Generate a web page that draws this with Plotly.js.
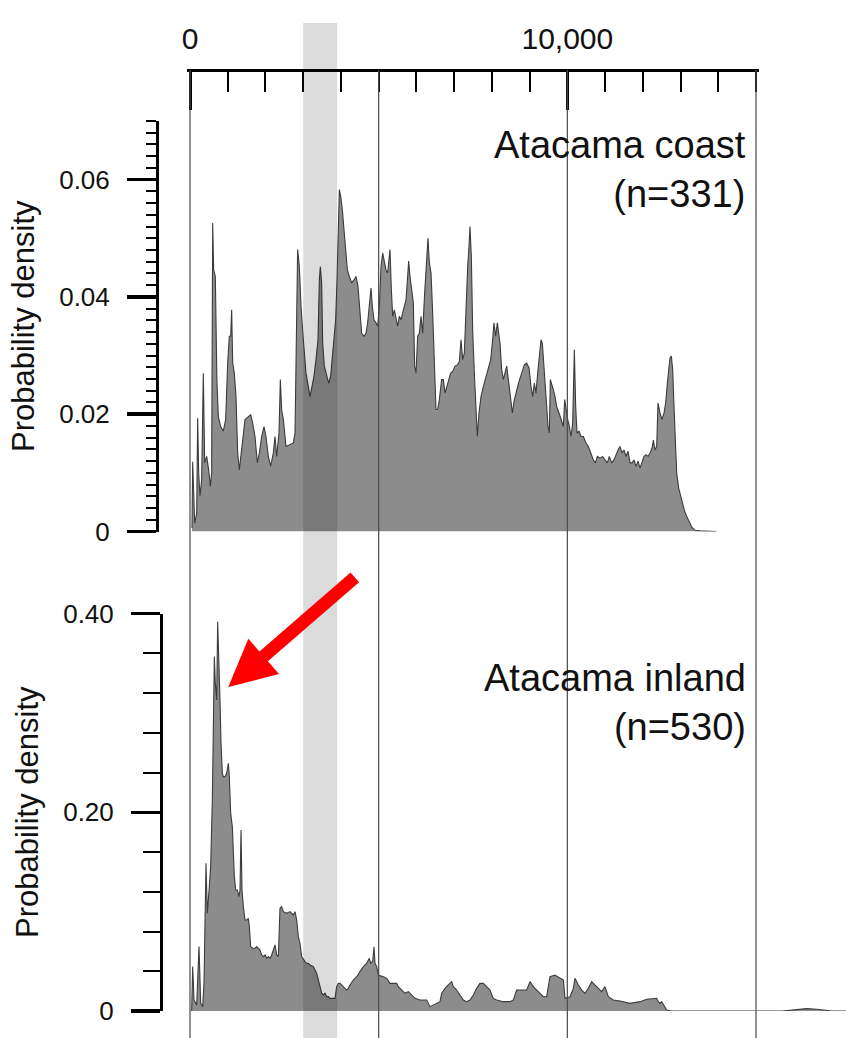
<!DOCTYPE html>
<html>
<head>
<meta charset="utf-8">
<script src="https://cdn.plot.ly/plotly-3.0.1.min.js"></script>
<style>
html, body { margin: 0; padding: 0; background: #ffffff; }
#chart { width: 846px; height: 1038px; }
</style>
</head>
<body>
<div id="chart"></div>
<script>
// Summed probability density of radiocarbon dates (cal yr BP), two regions.

const coastAge = [53,71,124,177,203,230,265,309,353,389,442,495,539,574,601,627,671,712,751,813,883,945,998,1042,1078,1104,1131,1175,1219,1263,1307,1369,1458,1546,1608,1661,1723,1785,1838,1899,1961,2014,2076,2138,2209,2253,2297,2359,2394,2429,2474,2544,2650,2739,2783,2818,2853,2898,2942,3004,3074,3136,3180,3233,3286,3339,3392,3428,3454,3489,3516,3560,3622,3675,3728,3772,3816,3860,3896,3931,3958,3993,4037,4081,4125,4170,4223,4284,4346,4399,4452,4505,4549,4611,4664,4708,4753,4797,4832,4876,4929,4973,5018,5062,5106,5150,5194,5239,5274,5300,5336,5371,5415,5459,5503,5548,5592,5636,5680,5724,5769,5795,5830,5875,5919,5954,5990,6034,6078,6122,6166,6219,6272,6307,6343,6387,6431,6475,6519,6564,6608,6669,6714,6758,6802,6855,6908,6961,7023,7085,7138,7182,7226,7270,7314,7359,7394,7420,7456,7491,7535,7580,7615,7659,7712,7774,7845,7906,7968,8021,8056,8101,8145,8216,8260,8304,8349,8393,8437,8481,8543,8596,8658,8720,8790,8861,8923,8985,9038,9082,9126,9170,9214,9258,9303,9338,9373,9417,9453,9488,9523,9550,9585,9629,9674,9718,9780,9833,9895,9930,9965,10009,10054,10098,10142,10186,10221,10257,10310,10363,10425,10495,10557,10619,10690,10743,10796,10866,10937,10999,11060,11113,11175,11237,11290,11343,11396,11449,11502,11555,11608,11661,11714,11767,11820,11873,11926,11979,12032,12085,12138,12191,12244,12280,12324,12368,12403,12456,12509,12562,12606,12651,12686,12721,12757,12792,12827,12863,12898,12951,13004,13057,13110,13163,13234,13304,13384,13516,13958];
const coastDensity = [0.0006,0.0119,0.0014,0.0031,0.0193,0.0100,0.0060,0.0088,0.0270,0.0117,0.0128,0.0105,0.0077,0.0100,0.0526,0.0446,0.0435,0.0259,0.0196,0.0179,0.0171,0.0191,0.0287,0.0333,0.0333,0.0378,0.0287,0.0270,0.0230,0.0134,0.0105,0.0145,0.0191,0.0196,0.0199,0.0185,0.0162,0.0117,0.0134,0.0162,0.0179,0.0162,0.0128,0.0111,0.0134,0.0162,0.0128,0.0168,0.0259,0.0208,0.0191,0.0145,0.0148,0.0151,0.0168,0.0373,0.0481,0.0452,0.0384,0.0327,0.0270,0.0247,0.0230,0.0247,0.0265,0.0293,0.0327,0.0429,0.0452,0.0424,0.0321,0.0282,0.0265,0.0253,0.0265,0.0293,0.0333,0.0361,0.0429,0.0555,0.0583,0.0572,0.0549,0.0515,0.0481,0.0446,0.0435,0.0424,0.0429,0.0435,0.0418,0.0378,0.0338,0.0333,0.0338,0.0356,0.0384,0.0415,0.0384,0.0361,0.0356,0.0350,0.0384,0.0452,0.0475,0.0458,0.0446,0.0441,0.0469,0.0481,0.0412,0.0367,0.0378,0.0361,0.0350,0.0367,0.0361,0.0373,0.0384,0.0395,0.0435,0.0461,0.0435,0.0412,0.0390,0.0282,0.0270,0.0333,0.0338,0.0367,0.0338,0.0407,0.0475,0.0500,0.0458,0.0441,0.0373,0.0282,0.0208,0.0208,0.0225,0.0259,0.0259,0.0236,0.0247,0.0259,0.0270,0.0273,0.0282,0.0284,0.0290,0.0327,0.0293,0.0304,0.0384,0.0452,0.0486,0.0520,0.0469,0.0344,0.0270,0.0202,0.0162,0.0202,0.0230,0.0247,0.0265,0.0276,0.0293,0.0327,0.0356,0.0333,0.0356,0.0321,0.0276,0.0259,0.0270,0.0282,0.0259,0.0230,0.0202,0.0225,0.0242,0.0256,0.0270,0.0284,0.0287,0.0279,0.0247,0.0230,0.0253,0.0236,0.0270,0.0299,0.0327,0.0321,0.0293,0.0253,0.0213,0.0179,0.0168,0.0259,0.0253,0.0242,0.0230,0.0213,0.0202,0.0191,0.0179,0.0225,0.0208,0.0191,0.0179,0.0162,0.0185,0.0310,0.0213,0.0168,0.0171,0.0162,0.0162,0.0151,0.0145,0.0134,0.0122,0.0117,0.0128,0.0125,0.0128,0.0122,0.0117,0.0128,0.0117,0.0122,0.0131,0.0139,0.0145,0.0134,0.0139,0.0128,0.0137,0.0117,0.0117,0.0122,0.0111,0.0120,0.0108,0.0117,0.0128,0.0131,0.0128,0.0134,0.0142,0.0156,0.0139,0.0145,0.0219,0.0202,0.0191,0.0202,0.0219,0.0253,0.0282,0.0296,0.0299,0.0276,0.0213,0.0156,0.0100,0.0074,0.0060,0.0048,0.0034,0.0026,0.0017,0.0007,0.0002,0.0001,0];

const inlandAge = [44,71,106,177,239,283,336,371,424,459,512,548,592,618,645,671,707,733,769,795,822,857,883,928,972,1016,1042,1078,1122,1148,1175,1210,1254,1299,1325,1352,1378,1413,1458,1502,1546,1572,1608,1661,1723,1767,1811,1855,1899,1944,1988,2032,2076,2120,2164,2209,2253,2297,2341,2385,2429,2474,2562,2650,2739,2783,2827,2871,2915,2959,3004,3048,3092,3136,3180,3269,3313,3357,3401,3445,3490,3534,3578,3622,3666,3710,3843,3887,3931,3975,4019,4063,4108,4152,4196,4240,4328,4417,4505,4593,4682,4752,4788,4841,4876,4903,4947,4991,5123,5212,5300,5388,5477,5521,5609,5698,5786,5874,5963,6095,6272,6360,6449,6625,6669,6758,6846,6934,6979,7067,7155,7244,7332,7420,7509,7597,7685,7774,7862,7950,8039,8127,8304,8480,8569,8657,8834,8922,9010,9099,9187,9275,9364,9452,9496,9540,9673,9805,9894,9938,10071,10159,10203,10291,10380,10468,10556,10645,10733,10821,10910,10998,11086,11219,11396,11661,11926,12103,12280,12368,12412,12456,12500,12545,12589,12633,12721,13000,15700,15990,16343,16608,16962,17385];
const inlandDensity = [0,0.0447,0.0111,0.0061,0.0648,0.0078,0.0044,0.0279,0.1486,0.0983,0.1252,0.1453,0.2124,0.2727,0.3566,0.3297,0.3130,0.3918,0.3532,0.3130,0.2694,0.2392,0.2358,0.2358,0.2392,0.2493,0.2358,0.1989,0.1855,0.1587,0.1352,0.1218,0.1218,0.1151,0.1218,0.1822,0.1218,0.1050,0.0916,0.0916,0.0933,0.0849,0.0648,0.0631,0.0631,0.0648,0.0631,0.0614,0.0564,0.0547,0.0564,0.0530,0.0547,0.0530,0.0564,0.0614,0.0665,0.0564,0.0547,0.1034,0.1050,0.1000,0.0983,0.1000,0.0966,0.1000,0.0916,0.0748,0.0681,0.0547,0.0514,0.0497,0.0480,0.0480,0.0463,0.0447,0.0413,0.0380,0.0313,0.0246,0.0179,0.0162,0.0179,0.0145,0.0145,0.0127,0.0127,0.0245,0.0278,0.0278,0.0262,0.0245,0.0228,0.0211,0.0228,0.0262,0.0312,0.0345,0.0396,0.0446,0.0480,0.0530,0.0480,0.0496,0.0647,0.0480,0.0446,0.0362,0.0345,0.0329,0.0278,0.0278,0.0278,0.0245,0.0211,0.0178,0.0195,0.0161,0.0127,0.0111,0.0111,0.0044,0.0060,0.0094,0.0178,0.0228,0.0262,0.0295,0.0245,0.0211,0.0161,0.0111,0.0094,0.0111,0.0161,0.0228,0.0278,0.0278,0.0245,0.0211,0.0127,0.0111,0.0094,0.0094,0.0111,0.0211,0.0211,0.0211,0.0295,0.0245,0.0211,0.0178,0.0144,0.0144,0.0228,0.0345,0.0362,0.0329,0.0312,0.0127,0.0144,0.0228,0.0329,0.0262,0.0211,0.0178,0.0228,0.0295,0.0262,0.0228,0.0195,0.0245,0.0144,0.0111,0.0101,0.0077,0.0094,0.0118,0.0128,0.0128,0.0094,0.0077,0.0094,0.0060,0.0027,0.0010,0.0003,0,0,0.0010,0.0024,0.0017,0.0003,0];

// axis ticks
const ageTickVals = [0, 10000];
const ageTickText = ['0', '10,000'];
const coastTickVals = [0, 0.02, 0.04, 0.06];
const coastTickText = ['0', '0.02', '0.04', '0.06'];
const inlandTickVals = [0, 0.2, 0.4];
const inlandTickText = ['0', '0.20', '0.40'];

// vertical reference lines and highlighted interval (cal yr BP)
const gridAges = [0, 5000, 10000, 15000];
const bandAges = [3000, 3900];

// panel labels
const coastLabel = 'Atacama coast<br>(n=331)';
const inlandLabel = 'Atacama inland<br>(n=530)';
const yTitle = 'Probability density';

// highlighted point on the inland curve
const markAge = 1015;
const markDensity = 0.326;

// page geometry helpers (pixels -> paper fractions)
const W = 846, H = 1038;
const fx = p => p / W;
const fy = p => 1 - p / H;

const FONT = 'Liberation Sans, Arial, Helvetica, sans-serif';
const fillGrey = '#8c8c8c';
const edgeGrey = '#3c3c3c';

const traces = [
  {
    x: coastAge, y: coastDensity, xaxis: 'x', yaxis: 'y',
    type: 'scatter', mode: 'lines', fill: 'tozeroy',
    fillcolor: fillGrey, line: { color: edgeGrey, width: 1.1 },
    hoverinfo: 'skip', showlegend: false
  },
  {
    x: inlandAge, y: inlandDensity, xaxis: 'x2', yaxis: 'y2',
    type: 'scatter', mode: 'lines', fill: 'tozeroy',
    fillcolor: fillGrey, line: { color: edgeGrey, width: 1.1 },
    hoverinfo: 'skip', showlegend: false
  }
];

const shapes = gridAges.map(a => ({
  type: 'line', xref: 'x2', yref: 'paper',
  x0: a, x1: a, y0: 0, y1: fy(70),
  line: { color: '#4a4a4a', width: 1.2 }, layer: 'above'
}));
shapes.push({
  type: 'rect', xref: 'x2', yref: 'paper',
  x0: bandAges[0], x1: bandAges[1], y0: 0, y1: fy(23),
  fillcolor: 'rgba(0,0,0,0.14)', line: { width: 0 }, layer: 'above'
});

// the top age axis runs a hair past 0 and 15,000 so the end ticks are kept
const layout = {
  width: W, height: H,
  margin: { l: 0, r: 0, t: 0, b: 0 },
  paper_bgcolor: '#ffffff', plot_bgcolor: 'rgba(0,0,0,0)',
  font: { family: FONT, color: '#111111' },
  showlegend: false,
  hovermode: false,
  xaxis: {
    domain: [fx(187), fx(759)], range: [-79.5, 15079.5],
    anchor: 'free', position: fy(70), side: 'top',
    showline: true, linecolor: '#000000', linewidth: 3,
    ticks: 'inside', ticklen: 38, tickwidth: 3, tickcolor: '#000000',
    tickmode: 'array', tickvals: ageTickVals, ticktext: ageTickText,
    tickfont: { size: 30, family: FONT, color: '#111111' },
    ticklabelstandoff: 8,
    minor: { dtick: 1000, tick0: 0, ticks: 'inside', ticklen: 20, tickwidth: 2, tickcolor: '#000000' },
    showgrid: false, zeroline: false, fixedrange: true
  },
  xaxis2: {
    domain: [fx(180), 1], range: [-265, 17385], anchor: 'y2',
    visible: false, showgrid: false, zeroline: false, fixedrange: true
  },
  yaxis: {
    domain: [fy(531.5), fy(121)], range: [0, 0.07],
    anchor: 'free', position: fx(157), side: 'left',
    showline: true, linecolor: '#000000', linewidth: 3,
    ticks: 'outside', ticklen: 29, tickwidth: 3.5, tickcolor: '#000000',
    tickmode: 'array', tickvals: coastTickVals, ticktext: coastTickText,
    tickfont: { size: 26, family: FONT, color: '#111111' },
    ticklabelstandoff: 12,
    minor: { dtick: 0.002, tick0: 0, ticks: 'outside', ticklen: 10, tickwidth: 2, tickcolor: '#000000' },
    title: { text: yTitle, font: { size: 31, family: FONT, color: '#111111' }, standoff: 14 },
    showgrid: false, zeroline: false, fixedrange: true
  },
  yaxis2: {
    domain: [fy(1011), fy(613.5)], range: [0, 0.4],
    anchor: 'free', position: fx(161), side: 'left',
    showline: true, linecolor: '#000000', linewidth: 3,
    ticks: 'outside', ticklen: 29, tickwidth: 3.5, tickcolor: '#000000',
    tickmode: 'array', tickvals: inlandTickVals, ticktext: inlandTickText,
    tickfont: { size: 26, family: FONT, color: '#111111' },
    ticklabelstandoff: 12,
    minor: { dtick: 0.04, tick0: 0, ticks: 'outside', ticklen: 17, tickwidth: 2, tickcolor: '#000000' },
    title: { text: yTitle, font: { size: 31, family: FONT, color: '#111111' }, standoff: 14 },
    showgrid: false, zeroline: false, fixedrange: true
  },
  shapes: shapes,
  annotations: [
    {
      xref: 'paper', yref: 'paper', x: fx(748), y: fy(122),
      xanchor: 'right', yanchor: 'top', align: 'right',
      text: coastLabel, showarrow: false,
      font: { size: 38, family: FONT, color: '#111111' }
    },
    {
      xref: 'paper', yref: 'paper', x: fx(748), y: fy(655),
      xanchor: 'right', yanchor: 'top', align: 'right',
      text: inlandLabel, showarrow: false,
      font: { size: 38, family: FONT, color: '#111111' }
    },
    {
      xref: 'x2', yref: 'y2', x: markAge, y: markDensity,
      text: '', showarrow: true, ax: 128, ay: -111,
      arrowhead: 2, arrowsize: 0.72, arrowwidth: 13,
      arrowcolor: '#ff0000', standoff: 0
    }
  ]
};

Plotly.newPlot('chart', traces, layout, { staticPlot: true, displayModeBar: false });
</script>
</body>
</html>
